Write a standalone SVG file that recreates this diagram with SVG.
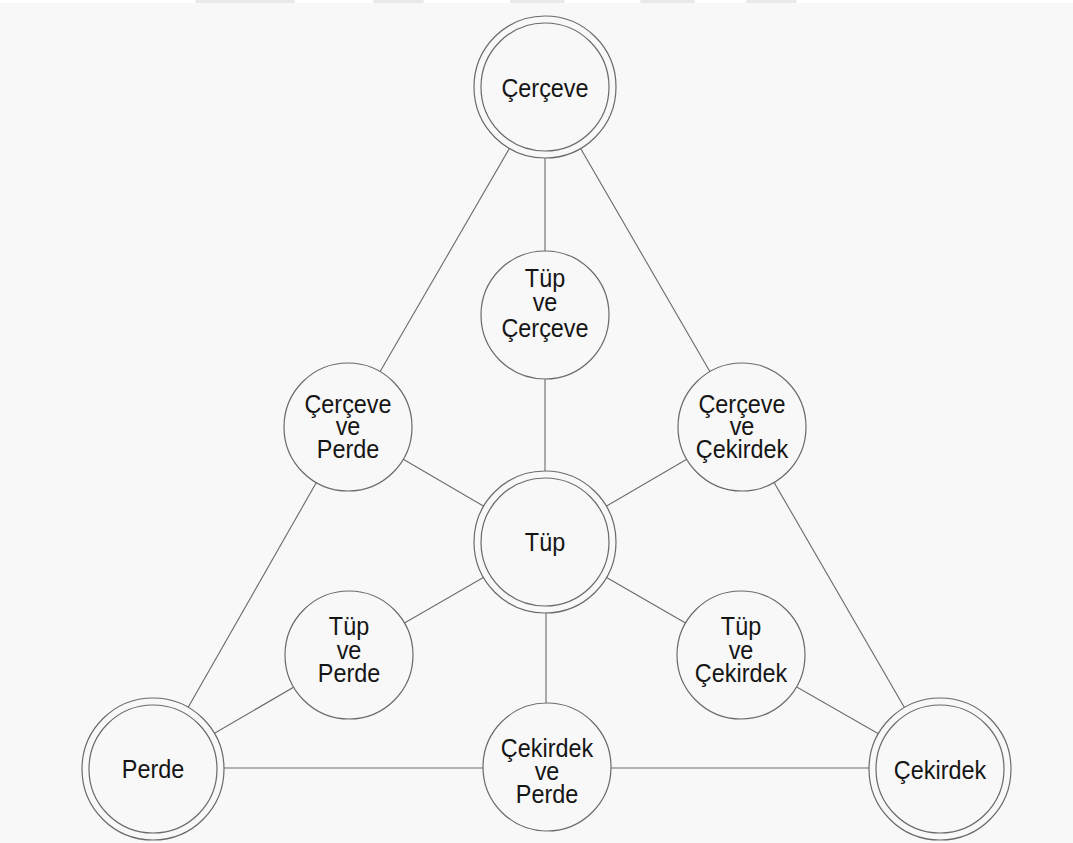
<svg xmlns="http://www.w3.org/2000/svg" width="1073" height="843" viewBox="0 0 1073 843">
  <style>
    .bg { fill: #f8f8f8; }
    .ring { fill: #f8f8f8; stroke: #6a6a6a; stroke-width: 1.2; }
    .ring2 { fill: none; stroke: #6a6a6a; stroke-width: 1.2; }
    .edge { stroke: #6a6a6a; stroke-width: 1.1; fill: none; }
    .lbl { font-family: "Liberation Sans", Arial, sans-serif; font-size: 26px; fill: #151515; text-anchor: middle; }
  </style>
  <rect class="bg" x="0" y="0" width="1073" height="843"/>
  <rect x="0" y="0" width="1073" height="3" fill="#ffffff"/>
  <g fill="#e9e9e9">
    <rect x="195" y="0" width="100" height="3" rx="1.5"/>
    <rect x="373" y="0" width="51" height="3" rx="1.5"/>
    <rect x="510" y="0" width="55" height="3" rx="1.5"/>
    <rect x="640" y="0" width="55" height="3" rx="1.5"/>
    <rect x="746" y="0" width="51" height="3" rx="1.5"/>
  </g>

  <g id="connectors">
    <line class="edge" x1="545" y1="87" x2="545" y2="315"/>
    <line class="edge" x1="545" y1="315" x2="545" y2="542"/>
    <line class="edge" x1="545" y1="87" x2="348" y2="427"/>
    <line class="edge" x1="545" y1="87" x2="742" y2="427"/>
    <line class="edge" x1="348" y1="427" x2="153" y2="769"/>
    <line class="edge" x1="742" y1="427" x2="940" y2="769"/>
    <line class="edge" x1="348" y1="427" x2="545" y2="542"/>
    <line class="edge" x1="742" y1="427" x2="545" y2="542"/>
    <line class="edge" x1="545" y1="542" x2="349" y2="655"/>
    <line class="edge" x1="545" y1="542" x2="741" y2="655"/>
    <line class="edge" x1="546" y1="542" x2="546" y2="767"/>
    <line class="edge" x1="349" y1="655" x2="153" y2="769"/>
    <line class="edge" x1="741" y1="655" x2="940" y2="769"/>
    <line class="edge" x1="153" y1="768" x2="547" y2="768"/>
    <line class="edge" x1="547" y1="768" x2="940" y2="768"/>
  </g>

  <g id="cerceve" transform="translate(545,87)">
    <circle class="ring" r="71"/>
    <circle class="ring2" r="64"/>
    <text class="lbl" transform="scale(0.9,1)" x="0" y="10">Çerçeve</text>
  </g>

  <g id="tup-ve-cerceve" transform="translate(545,315)">
    <circle class="ring" r="64"/>
    <text class="lbl" transform="scale(0.9,1)"><tspan x="0" y="-28">Tüp</tspan><tspan x="0" y="-4">ve</tspan><tspan x="0" y="22">Çerçeve</tspan></text>
  </g>

  <g id="cerceve-ve-perde" transform="translate(348,427)">
    <circle class="ring" r="64"/>
    <text class="lbl" transform="scale(0.9,1)"><tspan x="0" y="-14">Çerçeve</tspan><tspan x="0" y="8">ve</tspan><tspan x="0" y="31">Perde</tspan></text>
  </g>

  <g id="cerceve-ve-cekirdek" transform="translate(742,427)">
    <circle class="ring" r="64"/>
    <text class="lbl" transform="scale(0.9,1)"><tspan x="0" y="-14">Çerçeve</tspan><tspan x="0" y="8">ve</tspan><tspan x="0" y="31">Çekirdek</tspan></text>
  </g>

  <g id="tup" transform="translate(545,542)">
    <circle class="ring" r="71"/>
    <circle class="ring2" r="64"/>
    <text class="lbl" transform="scale(0.9,1)" x="0" y="9">Tüp</text>
  </g>

  <g id="tup-ve-perde" transform="translate(349,655)">
    <circle class="ring" r="64"/>
    <text class="lbl" transform="scale(0.9,1)"><tspan x="0" y="-20">Tüp</tspan><tspan x="0" y="4">ve</tspan><tspan x="0" y="27">Perde</tspan></text>
  </g>

  <g id="tup-ve-cekirdek" transform="translate(741,655)">
    <circle class="ring" r="64"/>
    <text class="lbl" transform="scale(0.9,1)"><tspan x="0" y="-20">Tüp</tspan><tspan x="0" y="4">ve</tspan><tspan x="0" y="27">Çekirdek</tspan></text>
  </g>

  <g id="perde" transform="translate(153,769)">
    <circle class="ring" r="71"/>
    <circle class="ring2" r="64"/>
    <text class="lbl" transform="scale(0.9,1)" x="0" y="9">Perde</text>
  </g>

  <g id="cekirdek-ve-perde" transform="translate(547,767)">
    <circle class="ring" r="64"/>
    <text class="lbl" transform="scale(0.9,1)"><tspan x="0" y="-10">Çekirdek</tspan><tspan x="0" y="13">ve</tspan><tspan x="0" y="36">Perde</tspan></text>
  </g>

  <g id="cekirdek" transform="translate(940,769)">
    <circle class="ring" r="71"/>
    <circle class="ring2" r="64"/>
    <text class="lbl" transform="scale(0.9,1)" x="0" y="10">Çekirdek</text>
  </g>
</svg>
